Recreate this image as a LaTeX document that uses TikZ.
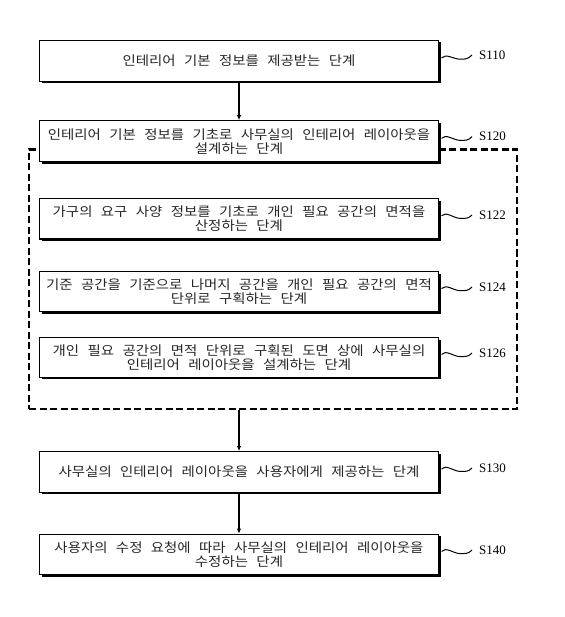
\documentclass[tikz,border=0pt]{standalone}
\usepackage{fontspec}
\newfontfamily\kr[WordSpace=2.6,FakeStretch=1.11]{Noto Sans CJK KR}
\newfontfamily\lbf{Liberation Serif}
\usetikzlibrary{shadows,calc,arrows.meta}
\begin{document}
\begin{tikzpicture}[x=1pt,y=-1pt,
  stepbox/.style={draw, line width=1.2pt, fill=white, minimum width=399pt,
    align=center, inner sep=2pt, text=black!85, font=\kr\fontsize{13}{14}\selectfont,
    drop shadow={shadow xshift=2pt,shadow yshift=-2pt,fill=black,opacity=1}},
  grpbox/.style={draw, line width=2.6pt, dash pattern=on 7pt off 3.5pt,
    minimum width=488pt, minimum height=259.5pt, inner sep=0pt},
  lbl/.style={anchor=west, inner sep=0pt, font=\lbf\fontsize{13}{14}\selectfont},
  arr/.style={line width=1.1pt, -{Latex[length=5pt,width=4.5pt]}},
  wave/.style={line width=1pt, to path={(\tikztostart) .. controls +(4,-5) and +(-6,0) ..
    ($(\tikztostart)!0.6!(\tikztotarget)+(0,3)$) .. controls +(6,0) and +(-4,4) .. (\tikztotarget)}}
]
\fill[white] (0,0) rectangle (564,617);
\useasboundingbox (0,0) rectangle (564,617);

\node[grpbox] (grp) at (273,279.25) {};

\node[stepbox, minimum height=41pt] (b110) at (239,61) {인테리어 기본 정보를 제공받는 단계};
\node[stepbox, minimum height=41pt] (b120) at (239,141.3) {인테리어 기본 정보를 기초로 사무실의 인테리어 레이아웃을\\설계하는 단계};
\node[stepbox, minimum height=40.5pt] (b122) at (239,218.8) {가구의 요구 사양 정보를 기초로 개인 필요 공간의 면적을\\산정하는 단계};
\node[stepbox, minimum height=40pt] (b124) at (239,291.6) {기준 공간을 기준으로 나머지 공간을 개인 필요 공간의 면적\\단위로 구획하는 단계};
\node[stepbox, minimum height=39.5pt] (b126) at (239,357.4) {개인 필요 공간의 면적 단위로 구획된 도면 상에 사무실의\\인테리어 레이아웃을 설계하는 단계};
\node[stepbox, minimum height=40.5pt] (b130) at (239,471.9) {사무실의 인테리어 레이아웃을 사용자에게 제공하는 단계};
\node[stepbox, minimum height=40.5pt] (b140) at (239,554.4) {사용자의 수정 요청에 따라 사무실의 인테리어 레이아웃을\\수정하는 단계};

\node[lbl] (l110) at (479,55) {S110};
\node[lbl] (l120) at (479,136.7) {S120};
\node[lbl] (l122) at (479,215) {S122};
\node[lbl] (l124) at (479,287) {S124};
\node[lbl] (l126) at (479,353) {S126};
\node[lbl] (l130) at (479,468) {S130};
\node[lbl] (l140) at (479,550) {S140};

\draw[wave] ([xshift=2.5pt,yshift=3pt]b110.east) to ([xshift=-7pt]l110.west);
\draw[wave] ([xshift=2.5pt,yshift=3pt]b120.east) to ([xshift=-7pt]l120.west);
\draw[wave] ([xshift=2.5pt,yshift=3pt]b122.east) to ([xshift=-7pt]l122.west);
\draw[wave] ([xshift=2.5pt,yshift=3pt]b124.east) to ([xshift=-7pt]l124.west);
\draw[wave] ([xshift=2.5pt,yshift=3pt]b126.east) to ([xshift=-7pt]l126.west);
\draw[wave] ([xshift=2.5pt,yshift=3pt]b130.east) to ([xshift=-7pt]l130.west);
\draw[wave] ([xshift=2.5pt,yshift=3pt]b140.east) to ([xshift=-7pt]l140.west);

\draw[arr] (b110.south) -- (b120.north);
\draw[arr] (grp.south -| b130.north) -- (b130.north);
\draw[arr] (b130.south) -- (b140.north);
\end{tikzpicture}
\end{document}
